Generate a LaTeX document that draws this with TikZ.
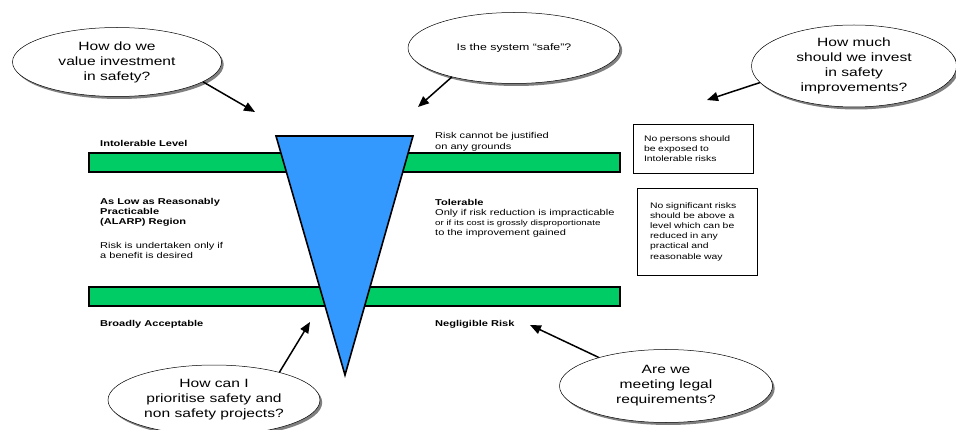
\documentclass[tikz,border=0pt]{standalone}
\usepackage{fontspec}
\setmainfont{Liberation Sans}
\newfontfamily\widefont[FakeStretch=1.3]{Liberation Sans}
\usetikzlibrary{arrows.meta,shapes.geometric,shadows}
\definecolor{barGreen}{RGB}{0,204,102}
\definecolor{coneBlue}{RGB}{51,153,255}

\begin{document}
\begin{tikzpicture}[x=1pt, y=-1pt,
    question/.style={ellipse, draw, line width=.5pt, fill=white, align=center,
                     inner sep=0pt,
                     drop shadow={shadow xshift=2.2pt, shadow yshift=-2.5pt, fill=black},
                     font=\widefont\fontsize{12}{15}\selectfont},
    bar/.style={draw, line width=1.6pt, fill=barGreen},
    cone/.style={draw, line width=1.6pt, fill=coneBlue},
    lbl/.style={anchor=north west, inner sep=0pt, align=left,
                font=\widefont\fontsize{8.5}{10}\selectfont},
    hdr/.style={lbl, font=\widefont\bfseries\fontsize{8.5}{10}\selectfont},
    note/.style={draw, line width=.8pt, align=left, inner sep=0pt,
                 minimum width=120pt, font=\widefont\fontsize{8}{10.2}\selectfont},
    arr/.style={-{Triangle[length=11pt,width=9pt]}, line width=1.5pt}]
  \useasboundingbox (0,0) rectangle (956,430);

  % levels and the cone
  \draw[bar] (89,153) rectangle (620,172);
  \draw[bar] (89,287) rectangle (620,306);
  \draw[cone] (276,136) -- (413,136) -- (345,375) -- cycle;

  % left column
  \node[hdr] (intol) at (100,140) {Intolerable Level};
  \node[hdr] (alarp) at (100,198) {As Low as Reasonably\\Practicable\\(ALARP) Region};
  \node[lbl] (benefit) at (100,242) {Risk is undertaken only if\\a benefit is desired};
  \node[hdr] (broad) at (100,320) {Broadly Acceptable};

  % right column
  \node[lbl] (unjust) at (435,132) {Risk cannot be justified\\[1.5pt]on any grounds};
  \node[lbl] (toler) at (435,199) {\textbf{Tolerable}\\Only if risk reduction is impracticable\\
    {\fontsize{7.5}{9}\selectfont or if its cost is grossly disproportionate}\\to the improvement gained};
  \node[hdr] (neglig) at (435,320) {Negligible Risk};

  % notes
  \node[note, minimum height=49pt, text width=98pt] (persons) at (693,148.5)
    {No persons should\\be exposed to\\Intolerable risks};
  \node[note, minimum height=87pt, text width=94pt] (signif) at (697,231.5)
    {No significant risks\\should be above a\\level which can be\\reduced in any\\practical and\\reasonable way};

  % questions
  \node[question, minimum width=209pt, minimum height=69pt] (value) at (117,62)
    {How do we\\value investment\\in safety?};
  \node[question, minimum width=212pt, minimum height=71pt,
        font=\widefont\fontsize{9.5}{12}\selectfont] (safe) at (514,48)
    {Is the system “safe”?};
  \node[question, minimum width=205pt, minimum height=82pt] (howmuch) at (854,66)
    {How much\\should we invest\\in safety\\improvements?};
  \node[question, minimum width=212pt, minimum height=70pt] (prior) at (214,400)
    {How can I\\prioritise safety and\\non safety projects?};
  \node[question, minimum width=213pt, minimum height=73pt] (legal) at (666,386)
    {Are we\\meeting legal\\requirements?};

  \coordinate (valueTip) at (255,112);
  \coordinate (safeTip) at (418,107);
  \coordinate (howmuchTip) at (707,100);
  \coordinate (priorTip) at (310,322);
  \coordinate (legalTip) at (530,325);

  \draw[arr] (value.-13) -- (valueTip);
  \draw[arr] (safe.-155) -- (safeTip);
  \draw[arr] (howmuch.190) -- (howmuchTip);
  \draw[arr] (prior.23) -- (priorTip);
  \draw[arr] (legal.157) -- (legalTip);
\end{tikzpicture}
\end{document}
